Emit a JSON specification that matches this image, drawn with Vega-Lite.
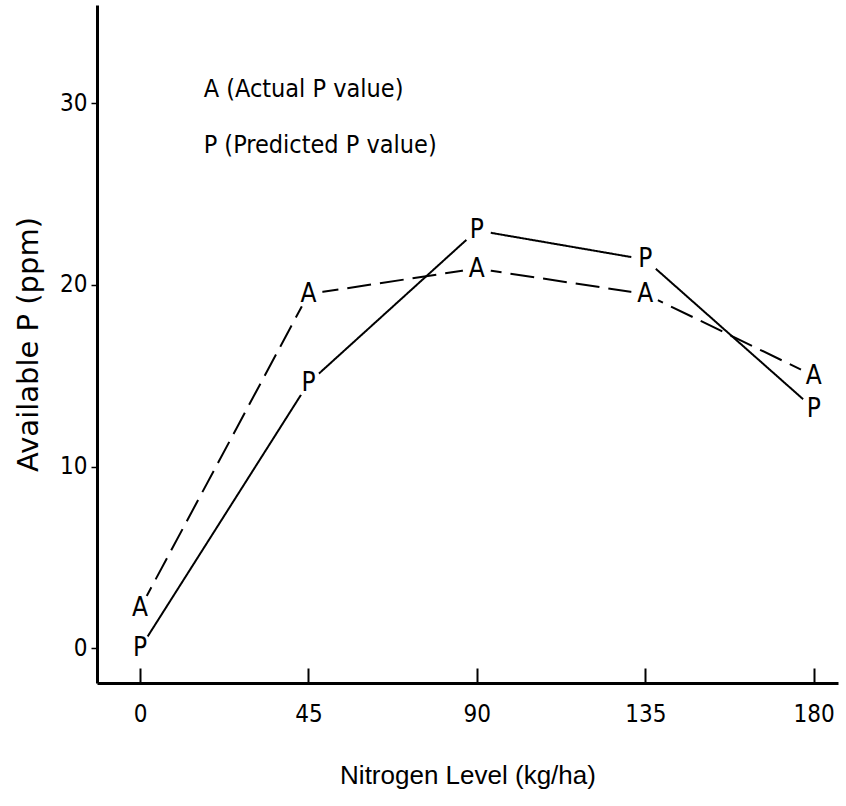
{
  "$schema": "https://vega.github.io/schema/vega-lite/v6.json",
  "width": 741,
  "height": 678,
  "autosize": "none",
  "padding": {"left": 97, "top": 5, "right": 8, "bottom": 123},
  "background": "white",
  "config": {
    "view": {"stroke": null},
    "font": "Liberation Sans"
  },
  "datasets": {
    "pts": [
      {"n": 0, "p": 2.2, "s": "A"},
      {"n": 45, "p": 19.5, "s": "A"},
      {"n": 90, "p": 20.9, "s": "A"},
      {"n": 135, "p": 19.5, "s": "A"},
      {"n": 180, "p": 15.0, "s": "A"},
      {"n": 0, "p": 0.0, "s": "P"},
      {"n": 45, "p": 14.6, "s": "P"},
      {"n": 90, "p": 23.0, "s": "P"},
      {"n": 135, "p": 21.4, "s": "P"},
      {"n": 180, "p": 13.2, "s": "P"}
    ],
    "leg": [
      {"n": 17, "p": 30.8, "t": "A (Actual P value)"},
      {"n": 17, "p": 27.7, "t": "P (Predicted P value)"}
    ]
  },
  "layer": [
    {
      "data": {"name": "pts"},
      "mark": {"type": "line", "color": "black", "strokeWidth": 2},
      "encoding": {
        "x": {
          "field": "n", "type": "quantitative",
          "scale": {"domain": [-11.5, 186.5], "nice": false, "zero": false},
          "axis": {
            "values": [0, 45, 90, 135, 180],
            "title": "Nitrogen Level (kg/ha)",
            "titleFontSize": 26, "titleFontWeight": "normal", "titleColor": "black",
            "titlePadding": 36,
            "labelFontSize": 24, "labelColor": "black", "labelFont": "DejaVu Sans Condensed, Liberation Sans, sans-serif",
            "labelPadding": 34,
            "tickSize": -15, "tickWidth": 2, "tickColor": "black",
            "domainColor": "black", "domainWidth": 3,
            "grid": false
          }
        },
        "y": {
          "field": "p", "type": "quantitative",
          "scale": {"domain": [-1.9, 35.4], "nice": false, "zero": false},
          "axis": {
            "values": [0, 10, 20, 30],
            "title": "Available P (ppm)",
            "titleFont": "DejaVu Sans",
            "titleFontSize": 29, "titleFontWeight": "normal", "titleColor": "black",
            "titlePadding": 16,
            "labelFontSize": 24, "labelColor": "black", "labelFont": "DejaVu Sans Condensed, Liberation Sans, sans-serif",
            "labelPadding": 4,
            "tickSize": 6, "tickWidth": 1.5, "tickColor": "black",
            "domainColor": "black", "domainWidth": 3,
            "grid": false
          }
        },
        "detail": {"field": "s"},
        "strokeDash": {
          "field": "s", "type": "nominal",
          "scale": {"domain": ["A", "P"], "range": [[24, 9], [1, 0]]},
          "legend": null
        }
      }
    },
    {
      "data": {"name": "pts"},
      "mark": {"type": "point", "shape": "circle", "filled": true, "color": "white", "opacity": 1, "size": 800},
      "encoding": {
        "x": {"field": "n", "type": "quantitative"},
        "y": {"field": "p", "type": "quantitative"}
      }
    },
    {
      "data": {"name": "pts"},
      "mark": {"type": "text", "fontSize": 26, "color": "black", "font": "DejaVu Sans Condensed, Liberation Sans, sans-serif", "baseline": "middle", "align": "center"},
      "encoding": {
        "x": {"field": "n", "type": "quantitative"},
        "y": {"field": "p", "type": "quantitative"},
        "text": {"field": "s"}
      }
    },
    {
      "data": {"name": "leg"},
      "mark": {"type": "text", "fontSize": 25, "color": "black", "font": "DejaVu Sans Condensed, Liberation Sans, sans-serif", "baseline": "middle", "align": "left"},
      "encoding": {
        "x": {"field": "n", "type": "quantitative"},
        "y": {"field": "p", "type": "quantitative"},
        "text": {"field": "t"}
      }
    }
  ]
}
